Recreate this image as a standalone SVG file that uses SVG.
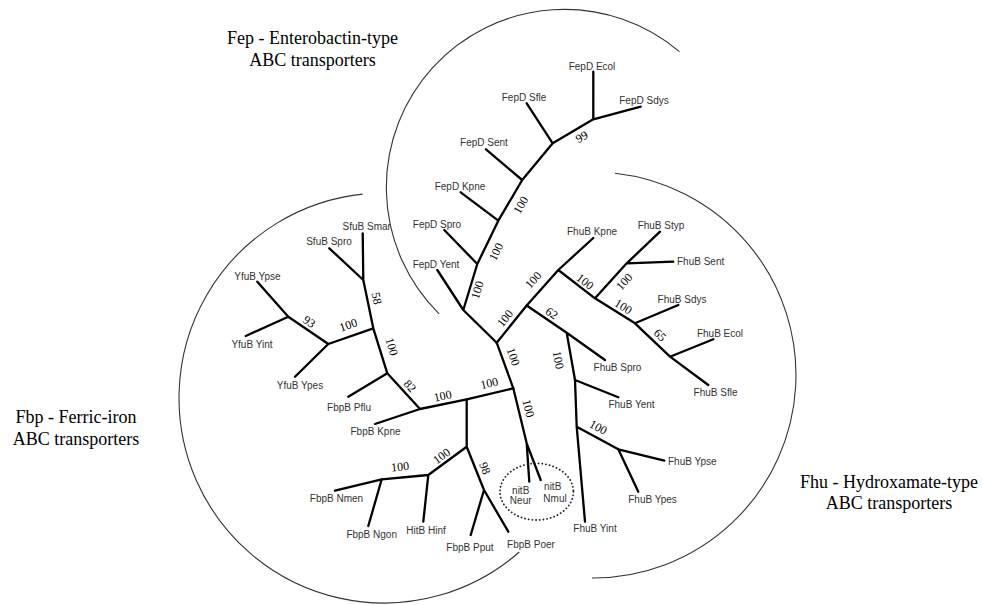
<svg xmlns="http://www.w3.org/2000/svg" width="983" height="605" viewBox="0 0 983 605">
<style>
.bg{fill:#fff}
.arc{fill:none;stroke:#333;stroke-width:1.1}
.br{fill:none;stroke:#000;stroke-width:2.3;stroke-linecap:round;stroke-linejoin:round}
.lf{font-family:"Liberation Sans",Arial,sans-serif;font-size:10px;fill:#333}
.bs{font-family:"Liberation Serif","Times New Roman",serif;font-size:12px;fill:#000;text-anchor:middle}
.tt{font-family:"Liberation Serif","Times New Roman",serif;font-size:18px;fill:#000;text-anchor:middle}
.dot{fill:none;stroke:#222;stroke-width:1.8;stroke-dasharray:0.1 3.6;stroke-linecap:round}
</style>
<rect class="bg" x="0" y="0" width="983" height="605"/>
<g id="group-circles">
<path class="arc" d="M439.1,313.9 A178,178 0 0 1 679.4,51.6"/>
<path class="arc" d="M362.6,194.1 A205,205 0 1 0 519.3,552"/>
<path class="arc" d="M615,173.2 A203,203 0 0 1 592,578"/>
</g>
<g id="titles">
<g id="title-fep"><text class="tt" x="312.5" y="44">Fep - Enterobactin-type</text><text class="tt" x="312.5" y="66">ABC transporters</text></g>
<g id="title-fbp"><text class="tt" x="76" y="423">Fbp - Ferric-iron</text><text class="tt" x="76" y="445">ABC transporters</text></g>
<g id="title-fhu"><text class="tt" x="889" y="488">Fhu - Hydroxamate-type</text><text class="tt" x="889" y="509">ABC transporters</text></g>
</g>
<g id="connectors">
<!-- Fep clade -->
<path class="br" d="M593.3,71.7 L593.3,119.3 M640.7,106.7 L593.3,119.3 L552.7,143.3 M526.7,103.3 L552.7,143.3 L522.2,180 M486,149.3 L522.2,180 L498.3,220.7 M460.7,192.3 L498.3,220.7 L477.3,264 M444.3,230 L477.3,264 L463.3,310 M437.3,270 L463.3,310 L496.7,342.7"/>
<!-- Fhu clade -->
<path class="br" d="M496.7,342.7 L526.7,305.5 L558.3,270 L593.3,238 M558.3,270 L595,298.3 L626.7,263.3 L660,231.7 M626.7,263.3 L673.3,261.7 M595,298.3 L635,323.3 L678.3,305 M635,323.3 L670,356.7 L713.3,339.3 M670,356.7 L708.3,385"/>
<path class="br" d="M526.7,305.5 L566.7,332.7 L605,360 M566.7,332.7 L575,380 L618.3,397.3 M575,380 L576.7,426.7 L585,521.7 M576.7,426.7 L618.3,449.3 L664.3,460.7 M618.3,449.3 L638.3,491.7"/>
<!-- root stem and nitB -->
<path class="br" d="M496.7,342.7 L513.3,388.3 L526.7,443.3 L529.3,481.7 M526.7,443.3 L540.7,480"/>
<!-- Fbp clade -->
<path class="br" d="M513.3,388.3 L466.7,399.3 L420,409 L375,424 M420,409 L387.3,373.3 L348.3,396.7 M387.3,373.3 L373.3,328.3 L363.3,280 L362.7,233.3 M363.3,280 L329.3,248.3 M373.3,328.3 L328.3,344 L288.3,316.7 L257.3,281.7 M288.3,316.7 L245.7,336 M328.3,344 L295,376.7"/>
<path class="br" d="M466.7,399.3 L466.7,446.7 L428.3,475 L423.3,521.7 M428.3,475 L381.7,479.3 L335,490.7 M381.7,479.3 L368.3,526 M466.7,446.7 L484,490 L508.3,531.7 M484,490 L470.7,535"/>
<ellipse class="dot" cx="536.7" cy="491.7" rx="36.7" ry="28.3"/>
</g>
<g id="bootstrap">
<text class="bs" transform="translate(581.7,136.7) rotate(-30)" y="4">99</text>
<text class="bs" transform="translate(520.7,205) rotate(-60)" y="4">100</text>
<text class="bs" transform="translate(496,251.7) rotate(-64)" y="4">100</text>
<text class="bs" transform="translate(477.3,290) rotate(-73)" y="4">100</text>
<text class="bs" transform="translate(505,318.3) rotate(-51)" y="4">100</text>
<text class="bs" transform="translate(533.3,280) rotate(-48)" y="4">100</text>
<text class="bs" transform="translate(585,281.7) rotate(38)" y="4">100</text>
<text class="bs" transform="translate(624.3,281.7) rotate(-48)" y="4">100</text>
<text class="bs" transform="translate(623.3,306.7) rotate(32)" y="4">100</text>
<text class="bs" transform="translate(660,335) rotate(44)" y="4">65</text>
<text class="bs" transform="translate(551.7,313.3) rotate(34)" y="4">62</text>
<text class="bs" transform="translate(558.3,360) rotate(80)" y="4">100</text>
<text class="bs" transform="translate(598.3,427.3) rotate(28)" y="4">100</text>
<text class="bs" transform="translate(513.3,356.7) rotate(70)" y="4">100</text>
<text class="bs" transform="translate(528.3,408.3) rotate(76)" y="4">100</text>
<text class="bs" transform="translate(489.3,383.3) rotate(-13)" y="4">100</text>
<text class="bs" transform="translate(442.7,396) rotate(-12)" y="4">100</text>
<text class="bs" transform="translate(410,386) rotate(48)" y="4">82</text>
<text class="bs" transform="translate(391.7,346.7) rotate(73)" y="4">100</text>
<text class="bs" transform="translate(376.7,298.3) rotate(78)" y="4">58</text>
<text class="bs" transform="translate(348.3,325) rotate(-19)" y="4">100</text>
<text class="bs" transform="translate(309.3,321.7) rotate(34)" y="4">93</text>
<text class="bs" transform="translate(441.7,456) rotate(-36)" y="4">100</text>
<text class="bs" transform="translate(400,466.7) rotate(-6)" y="4">100</text>
<text class="bs" transform="translate(485,468.3) rotate(68)" y="4">98</text>
</g>
<g id="leaves" class="lf">
<g id="n-fepd-ecol"><text x="592" y="69.6" text-anchor="middle">FepD Ecol</text></g>
<g id="n-fepd-sdys"><text x="644" y="103.6" text-anchor="middle">FepD Sdys</text></g>
<g id="n-fepd-sfle"><text x="524" y="101.3" text-anchor="middle">FepD Sfle</text></g>
<g id="n-fepd-sent"><text x="484" y="146.3" text-anchor="middle">FepD Sent</text></g>
<g id="n-fepd-kpne"><text x="460" y="189.6" text-anchor="middle">FepD Kpne</text></g>
<g id="n-fepd-spro"><text x="437" y="227.6" text-anchor="middle">FepD Spro</text></g>
<g id="n-fepd-yent"><text x="436" y="267.6" text-anchor="middle">FepD Yent</text></g>
<g id="n-fhub-kpne"><text x="592" y="234.6" text-anchor="middle">FhuB Kpne</text></g>
<g id="n-fhub-styp"><text x="661" y="228.6" text-anchor="middle">FhuB Styp</text></g>
<g id="n-fhub-sent"><text x="677" y="265.3">FhuB Sent</text></g>
<g id="n-fhub-sdys"><text x="682" y="302.6" text-anchor="middle">FhuB Sdys</text></g>
<g id="n-fhub-ecol"><text x="720" y="336.6" text-anchor="middle">FhuB Ecol</text></g>
<g id="n-fhub-sfle"><text x="715.5" y="395.9" text-anchor="middle">FhuB Sfle</text></g>
<g id="n-fhub-spro"><text x="617.5" y="371.3" text-anchor="middle">FhuB Spro</text></g>
<g id="n-fhub-yent"><text x="631.5" y="407.6" text-anchor="middle">FhuB Yent</text></g>
<g id="n-fhub-ypse"><text x="668" y="465.3">FhuB Ypse</text></g>
<g id="n-fhub-ypes"><text x="652.5" y="502.6" text-anchor="middle">FhuB Ypes</text></g>
<g id="n-fhub-yint"><text x="595" y="531.9" text-anchor="middle">FhuB Yint</text></g>
<g id="n-nitb-neur"><text x="520.7" y="494.3" text-anchor="middle">nitB</text><text x="520.7" y="504.3" text-anchor="middle">Neur</text></g>
<g id="n-nitb-nmul"><text x="552.7" y="490.3" text-anchor="middle">nitB</text><text x="555" y="501.9" text-anchor="middle">Nmul</text></g>
<g id="n-fbpb-poer"><text x="531" y="547.6" text-anchor="middle">FbpB Poer</text></g>
<g id="n-fbpb-pput"><text x="470" y="551.1" text-anchor="middle">FbpB Pput</text></g>
<g id="n-hitb-hinf"><text x="426" y="533.6" text-anchor="middle">HitB Hinf</text></g>
<g id="n-fbpb-ngon"><text x="371.7" y="537.6" text-anchor="middle">FbpB Ngon</text></g>
<g id="n-fbpb-nmen"><text x="336.5" y="501.9" text-anchor="middle">FbpB Nmen</text></g>
<g id="n-fbpb-kpne"><text x="375.5" y="435.3" text-anchor="middle">FbpB Kpne</text></g>
<g id="n-fbpb-pflu"><text x="349" y="410.9" text-anchor="middle">FbpB Pflu</text></g>
<g id="n-yfub-ypes"><text x="300" y="388.6" text-anchor="middle">YfuB Ypes</text></g>
<g id="n-yfub-yint"><text x="252" y="347.6" text-anchor="middle">YfuB Yint</text></g>
<g id="n-yfub-ypse"><text x="257.5" y="279.6" text-anchor="middle">YfuB Ypse</text></g>
<g id="n-sfub-spro"><text x="329" y="245.3" text-anchor="middle">SfuB Spro</text></g>
<g id="n-sfub-smar"><text x="366.7" y="230.3" text-anchor="middle">SfuB Smar</text></g>
</g>
</svg>
